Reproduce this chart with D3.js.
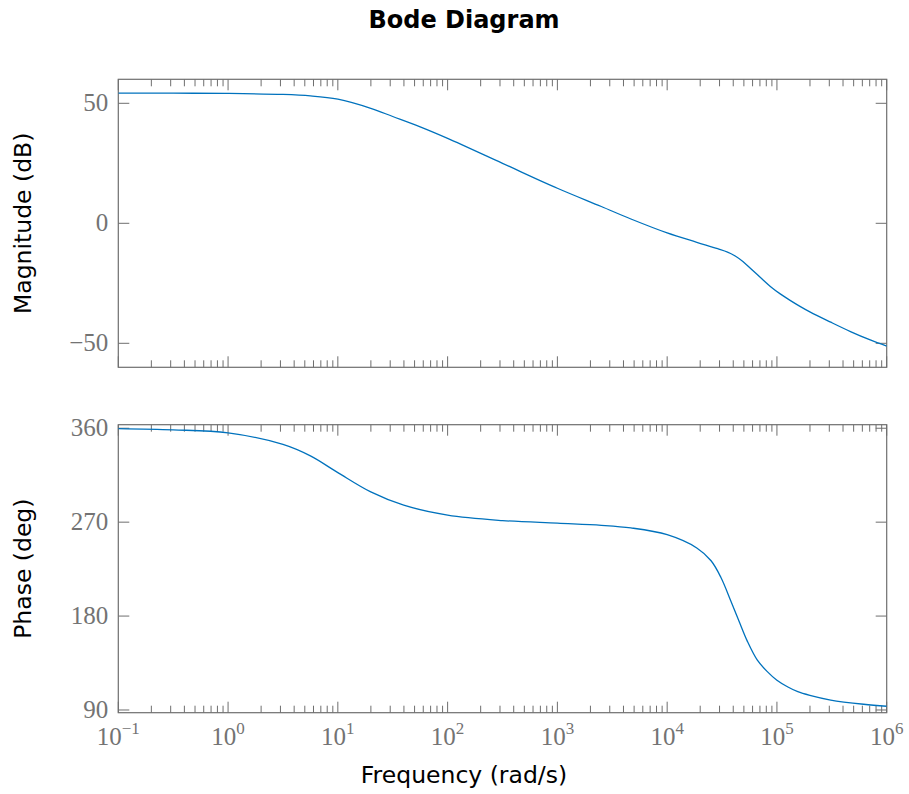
<!DOCTYPE html>
<html>
<head>
<meta charset="utf-8">
<script src="https://cdn.jsdelivr.net/npm/d3@7"></script>
<style>
	body { margin: 0; background: #fff; }
	.tick-label { font-family: 'Liberation Serif', serif; fill: #737373; }
	.axis-label { font-family: 'DejaVu Sans', sans-serif; font-size: 23.5px; fill: #000; }
</style>
</head>
<body>
<div id="chart"></div>
<script>
// frequencies as log10(rad/s)
const magFreqExp = [-1, -0.5, 0, 0.5, 0.75, 1.0, 1.3, 1.5, 1.75, 2.0, 2.5, 3.0, 3.4, 3.67, 4.0, 4.27, 4.46, 4.55, 4.62, 4.69, 4.76, 4.85, 4.94, 5.03, 5.12, 5.21, 5.3, 5.49, 5.67, 5.85, 6.0];
const magDb = [54.2, 54.2, 54.1, 53.7, 53.1, 51.7, 47.9, 44.5, 40.2, 35.4, 25.0, 14.6, 7.0, 1.8, -4.0, -7.9, -10.6, -12.0, -13.6, -15.9, -18.8, -22.6, -26.3, -29.4, -32.1, -34.6, -36.9, -41.2, -45.1, -48.6, -51.2];

const phaseFreqExp = [-1, -0.5, 0, 0.5, 0.75, 1.0, 1.3, 1.6, 2.0, 2.5, 3.0, 3.4, 3.67, 4.0, 4.27, 4.4, 4.49, 4.58, 4.655, 4.73, 4.82, 4.91, 5.0, 5.1, 5.19, 5.3, 5.49, 5.79, 6.0];
const phaseDeg = [359.7, 358.5, 355.5, 344.5, 333.5, 317.5, 299, 286.3, 276.7, 271.5, 269, 267, 264.5, 258, 245.3, 233, 217, 194.5, 175, 156, 138, 127, 118.5, 112, 107.5, 104, 99.5, 95.5, 93.6];

const xTickExp = [-1, 0, 1, 2, 3, 4, 5, 6];
const magTicks = [-50, 0, 50];
const phaseTicks = [90, 180, 270, 360];
const magDomain = [-60, 60];
const phaseDomain = [87.4, 363.4];

const width = 909, height = 794;
const left = 118.3, right = 886.7;
const axisColor = '#6e6e6e';
const lineColor = '#0072BD';

const svg = d3.select('#chart').append('svg')
	.attr('width', width)
	.attr('height', height);

svg.append('text')
	.attr('x', 464)
	.attr('y', 28)
	.attr('text-anchor', 'middle')
	.style('font-family', "'DejaVu Sans', sans-serif")
	.style('font-weight', 'bold')
	.style('font-size', '24px')
	.text('Bode Diagram');

const x = d3.scaleLog().domain([1e-1, 1e6]).range([left, right]);

const minorTicks = [];
for (let e = -1; e < 6; e++) {
	for (let m = 2; m <= 9; m++) minorTicks.push(m * Math.pow(10, e));
}
const majorTicks = xTickExp.map(e => Math.pow(10, e));

function drawPanel(top, bottom, yDomain, yTicks, fx, fy, label, showX, clipId) {
	const y = d3.scaleLinear().domain(yDomain).range([bottom, top]);
	const g = svg.append('g');
	const h = bottom - top;

	g.append('clipPath').attr('id', clipId)
		.append('rect')
		.attr('x', left).attr('y', top)
		.attr('width', right - left).attr('height', h);

	// minor + major x ticks, bottom and top, inward
	[[bottom, -1], [top, 1]].forEach(([yy, dir]) => {
		g.append('g').selectAll('line')
			.data(minorTicks)
			.enter().append('line')
			.attr('x1', d => x(d)).attr('x2', d => x(d))
			.attr('y1', yy).attr('y2', yy + dir * 7)
			.attr('stroke', axisColor).attr('stroke-width', 1);
		g.append('g').selectAll('line')
			.data(majorTicks)
			.enter().append('line')
			.attr('x1', d => x(d)).attr('x2', d => x(d))
			.attr('y1', yy).attr('y2', yy + dir * 11)
			.attr('stroke', axisColor).attr('stroke-width', 1);
	});

	// y ticks left and right, inward
	[[left, 1], [right, -1]].forEach(([xx, dir]) => {
		g.append('g').selectAll('line')
			.data(yTicks)
			.enter().append('line')
			.attr('x1', xx).attr('x2', xx + dir * 11)
			.attr('y1', d => y(d)).attr('y2', d => y(d))
			.attr('stroke', axisColor).attr('stroke-width', 1);
	});

	g.append('rect')
		.attr('x', left).attr('y', top)
		.attr('width', right - left).attr('height', h)
		.attr('fill', 'none')
		.attr('stroke', axisColor).attr('stroke-width', 1.2);

	g.append('g').selectAll('text')
		.data(yTicks)
		.enter().append('text')
		.attr('class', 'tick-label')
		.attr('x', left - 10)
		.attr('y', d => y(d))
		.attr('dy', '0.32em')
		.attr('text-anchor', 'end')
		.style('font-size', '25px')
		.text(d => (d < 0 ? '\u2212' + Math.abs(d) : d));

	if (showX) {
		const t = g.append('g').selectAll('text')
			.data(xTickExp)
			.enter().append('text')
			.attr('class', 'tick-label')
			.attr('x', d => x(Math.pow(10, d)))
			.attr('y', bottom + 32)
			.attr('text-anchor', 'middle')
			.style('font-size', '25px');
		t.append('tspan').text('10');
		t.append('tspan')
			.attr('dy', -11)
			.style('font-size', '17px')
			.text(d => (d < 0 ? '\u2212' + Math.abs(d) : d));
	}

	const line = d3.line()
		.x(d => x(Math.pow(10, d[0])))
		.y(d => y(d[1]))
		.curve(d3.curveCatmullRom.alpha(0.5));

	g.append('path')
		.datum(d3.zip(fx, fy))
		.attr('d', line)
		.attr('clip-path', 'url(#' + clipId + ')')
		.attr('fill', 'none')
		.attr('stroke', lineColor)
		.attr('stroke-width', 1.3);

	g.append('text')
		.attr('class', 'axis-label')
		.attr('text-anchor', 'middle')
		.attr('transform', 'translate(' + [31, (top + bottom) / 2] + ') rotate(-90)')
		.text(label);
}

drawPanel(79.3, 367.3, magDomain, magTicks, magFreqExp, magDb, 'Magnitude (dB)', false, 'clip-mag');
drawPanel(424.7, 712.7, phaseDomain, phaseTicks, phaseFreqExp, phaseDeg, 'Phase (deg)', true, 'clip-phase');

svg.append('text')
	.attr('class', 'axis-label')
	.attr('x', 464)
	.attr('y', 783)
	.attr('text-anchor', 'middle')
	.text('Frequency (rad/s)');
</script>
</body>
</html>
